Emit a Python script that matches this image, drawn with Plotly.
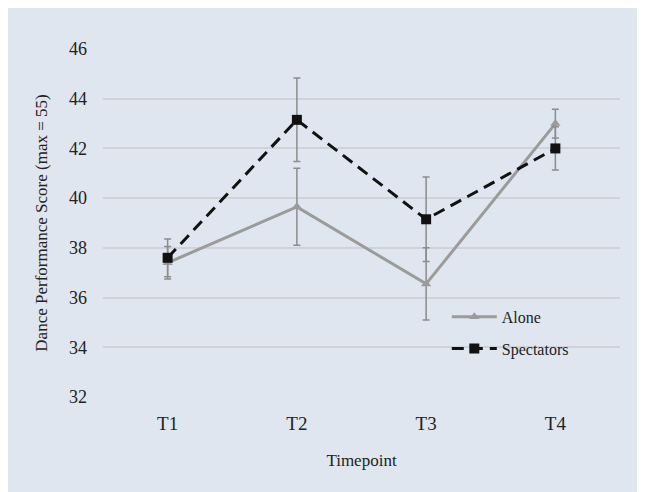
import plotly.graph_objects as go

timepoints = ["T1", "T2", "T3", "T4"]
alone = [37.4, 39.65, 36.55, 43.0]
alone_err = [0.65, 1.55, 1.45, 0.58]
spectators = [37.6, 43.15, 39.15, 42.0]
spectators_err = [0.76, 1.68, 1.7, 0.87]
y_ticks = [32, 34, 36, 38, 40, 42, 44, 46]

panel = "#dfe6ef"
serif = "Liberation Serif, Times New Roman, serif"

fig = go.Figure()
fig.add_trace(go.Scatter(
    x=timepoints, y=alone, name="Alone", mode="lines+markers",
    line=dict(color="#9b9b9b", width=3),
    marker=dict(symbol="triangle-up", size=9, color="#9b9b9b"),
    error_y=dict(type="data", array=alone_err, color="#8c8c8c", thickness=1.5, width=3.5),
    legendgroup="a",
))
fig.add_trace(go.Scatter(
    x=timepoints, y=spectators, name="Spectators", mode="lines+markers",
    line=dict(color="#111111", width=3, dash="12px,7px"),
    marker=dict(symbol="square", size=10, color="#111111"),
    error_y=dict(type="data", array=spectators_err, color="#8c8c8c", thickness=1.5, width=3.5),
    legendgroup="b",
))

fig.update_layout(
    width=660, height=500,
    margin=dict(l=95, r=48, t=41, b=111),
    paper_bgcolor=panel, plot_bgcolor=panel,
    font=dict(family=serif, size=16, color="#222222"),
    showlegend=True,
    legend=dict(x=0.665, y=0.279, xanchor="left", yanchor="top",
                bgcolor="rgba(0,0,0,0)", font=dict(size=16, family=serif),
                tracegroupgap=8, itemwidth=45),
    xaxis=dict(type="category", range=[-0.5, 3.5], showgrid=False, zeroline=False,
               showline=False, ticks="", tickfont=dict(size=19), ticklabelstandoff=13,
               title=dict(text="Timepoint", font=dict(size=17), standoff=21)),
    yaxis=dict(range=[32, 46], tickvals=y_ticks, showgrid=True, gridcolor="#cfd2d6",
               gridwidth=1.5, zeroline=False, showline=False, ticks="",
               tickfont=dict(size=18), ticklabelstandoff=15,
               title=dict(text="Dance Performance Score (max = 55)", font=dict(size=17), standoff=17)),
)

fig.write_html(
    "out.html",
    post_script="document.documentElement.style.overflow='hidden';document.body.style.overflow='hidden';",
)
